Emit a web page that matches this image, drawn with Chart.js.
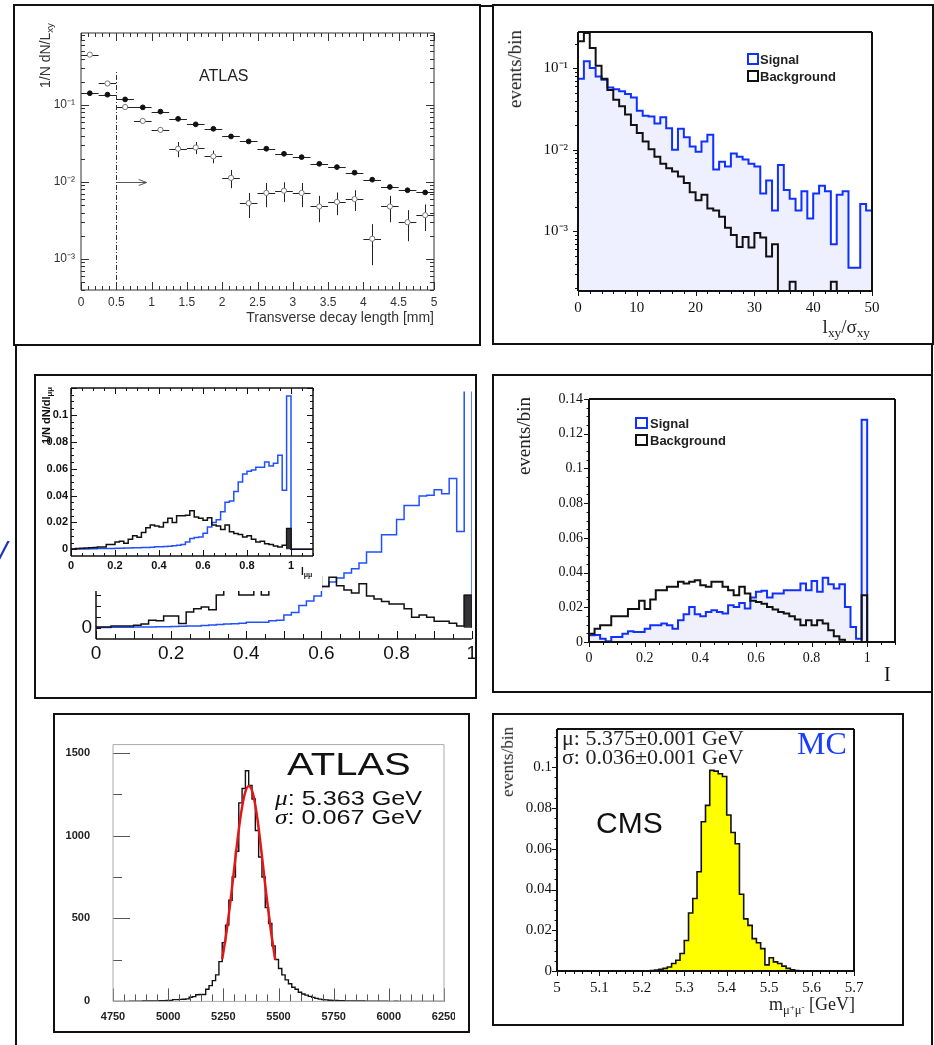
<!DOCTYPE html>
<html>
<head>
<meta charset="utf-8">
<title>B to mu mu selection plots</title>
<script src="https://cdn.jsdelivr.net/npm/chart.js@4.4.1/dist/chart.umd.min.js"></script>
<style>
  body { margin: 0; background: #fff; }
  #page { position: relative; width: 934px; height: 1045px; overflow: hidden; background: #fff; }
  #page canvas, .box, .ln, .t, .lg { position: absolute; }
  .box { border: 2px solid #111; box-sizing: border-box; }
  .ln { background: #111; }
  .t { white-space: nowrap; line-height: 1; color: #111; }
  .rot { transform-origin: right top; transform: rotate(-90deg); }
  .sans { font-family: 'Liberation Sans', Arial, sans-serif; }
  .serif { font-family: 'Liberation Serif', 'Times New Roman', serif; }
  sub { font-size: 70%; vertical-align: -0.3em; line-height: 0; }
  sup { font-size: 70%; vertical-align: 0.4em; line-height: 0; }
  .lg { box-sizing: border-box; border: 2px solid #111; background: #fff; }
  #c3b { background: #fff; }
</style>
</head>
<body>
<div id="page">
  <div class="box" style="left:13px;top:4px;width:468px;height:342px"></div>
  <div class="ln" style="left:480px;top:5px;width:14px;height:2px"></div>
  <div class="box" style="left:492px;top:4px;width:442px;height:341px"></div>
  <div class="ln" style="left:15px;top:345px;width:2px;height:700px"></div>
  <div class="ln" style="left:931px;top:344px;width:2px;height:701px"></div>
  <div class="box" style="left:34px;top:374px;width:443px;height:325px"></div>
  <div class="box" style="left:492px;top:374px;width:441px;height:319px"></div>
  <div class="box" style="left:53px;top:713px;width:417px;height:320px"></div>
  <div class="box" style="left:492px;top:713px;width:412px;height:313px"></div>

  <canvas id="c1"></canvas>
  <canvas id="c2"></canvas>
  <canvas id="c3a" style="clip-path: inset(0 5px 0 0)"></canvas>
  <canvas id="c3b"></canvas>
  <canvas id="c4"></canvas>
  <canvas id="c5" style="clip-path: inset(0 13px 0 0)"></canvas>
  <canvas id="c6"></canvas>

  <!-- panel 1 -->
  <div class="t sans" style="left:199px;top:68px;font-size:16px;color:#222">ATLAS</div>
  <div class="t sans rot" style="right:896px;top:23px;font-size:14px;color:#333">1/N dN/L<sub>xy</sub></div>
  <div class="t sans" style="right:500px;top:310px;font-size:14px;color:#333">Transverse decay length [mm]</div>

  <!-- panel 2 -->
  <div class="t serif rot" style="right:429px;top:30px;font-size:19px;color:#222">events/bin</div>
  <div class="t serif" style="right:64px;top:317px;font-size:19px;color:#222">l<sub>xy</sub>/σ<sub>xy</sub></div>
  <div class="lg" style="left:747px;top:53px;width:12px;height:12px;border-color:#1030ff"></div>
  <div class="t sans" style="left:760px;top:53px;font-size:13px;font-weight:bold;color:#222">Signal</div>
  <div class="lg" style="left:747px;top:70px;width:12px;height:12px"></div>
  <div class="t sans" style="left:760px;top:70px;font-size:13px;font-weight:bold;color:#222">Background</div>

  <!-- panel 3 -->
  <div class="t serif" style="left:-3px;top:535px;font-size:36px;font-style:italic;font-weight:bold;color:#2233bb">/</div>
  <div class="t sans rot" style="right:893px;top:387px;font-size:11px;font-weight:bold">1/N dN/dl<sub>μμ</sub></div>
  <div class="t sans" style="left:301px;top:567px;font-size:10px;font-weight:bold">l<sub>μμ</sub></div>

  <!-- panel 4 -->
  <div class="t serif rot" style="right:420px;top:397px;font-size:19px;color:#222">events/bin</div>
  <div class="t serif" style="left:884px;top:664px;font-size:20px">I</div>
  <div class="lg" style="left:635px;top:417px;width:13px;height:12px;border-color:#1030ff"></div>
  <div class="t sans" style="left:650px;top:417px;font-size:13px;font-weight:bold;color:#222">Signal</div>
  <div class="lg" style="left:635px;top:434px;width:13px;height:12px"></div>
  <div class="t sans" style="left:650px;top:434px;font-size:13px;font-weight:bold;color:#222">Background</div>

  <!-- panel 5 -->
  <div class="t sans" style="left:287px;top:748px;font-size:32px;transform:scaleX(1.25);transform-origin:left top">ATLAS</div>
  <div class="t sans" style="left:275px;top:787px;font-size:21px;transform:scaleX(1.2);transform-origin:left top"><i class="serif">μ</i>: 5.363 GeV</div>
  <div class="t sans" style="left:275px;top:806px;font-size:21px;transform:scaleX(1.2);transform-origin:left top"><i class="serif">σ</i>: 0.067 GeV</div>

  <!-- panel 6 -->
  <div class="t serif" style="left:562px;top:727px;font-size:22px;color:#222">μ: 5.375±0.001 GeV</div>
  <div class="t serif" style="left:562px;top:746px;font-size:22px;color:#222">σ: 0.036±0.001 GeV</div>
  <div class="t serif" style="left:797px;top:727px;font-size:32px;color:#1a3cff">MC</div>
  <div class="t sans" style="left:596px;top:808px;font-size:30px">CMS</div>
  <div class="t serif rot" style="right:435px;top:727px;font-size:17px;color:#222">events/bin</div>
  <div class="t serif" style="right:79px;top:995px;font-size:18px;color:#222">m<sub>μ<sup>+</sup>μ<sup>-</sup></sub> [GeV]</div>
</div>

<script>
'use strict';

// ---------- panel 1: transverse decay length (ATLAS) ----------
const lxyCenters = [0.125, 0.375, 0.625, 0.875, 1.125, 1.375, 1.625, 1.875, 2.125, 2.375,
                    2.625, 2.875, 3.125, 3.375, 3.625, 3.875, 4.125, 4.375, 4.625, 4.875];
const lxyHalfBin = 0.125;
const lxyFilled = [0.142, 0.136, 0.118, 0.093, 0.082, 0.066, 0.056, 0.049, 0.039, 0.0336,
                   0.027, 0.0232, 0.021, 0.0172, 0.0156, 0.0132, 0.0107, 0.0086, 0.0078, 0.0073];
const lxyOpen = [0.45, 0.19, 0.094, 0.062, 0.0475, 0.027, 0.028, 0.0215, 0.0113, 0.0053,
                 0.0072, 0.0077, 0.0072, 0.0048, 0.0055, 0.006, 0.00183, 0.0048, 0.003, 0.0037];
const lxyOpenErr = [0, 0, 0, 0, 0.004, 0.006, 0.005, 0.004, 0.003, 0.0019,
                    0.0025, 0.0022, 0.0025, 0.0018, 0.0018, 0.0018, 0.001, 0.0018, 0.0013, 0.0014];
const lxyCut = 0.5, lxyCutTop = 0.28, lxyArrowEnd = 0.93, lxyArrowY = 0.01;

// ---------- panel 2: Lxy / sigma (50 bins of 1) ----------
const sigLxy = [0.074, 0.121, 0.1, 0.079, 0.072, 0.058, 0.055, 0.052, 0.048, 0.0436,
                0.030, 0.026, 0.0255, 0.021, 0.025, 0.0183, 0.01, 0.018, 0.0142, 0.0109,
                0.0094, 0.0126, 0.0152, 0.0057, 0.0071, 0.0062, 0.009, 0.0082, 0.0076, 0.0067,
                0.0062, 0.0029, 0.0042, 0.0018, 0.0065, 0.0032, 0.0025, 0.0018, 0.0031, 0.00143,
                0.0029, 0.0036, 0.0031, 0.00069, 0.0028, 0.0031, 0.000357, 0.000357, 0.00215, 0.0018];
const bkgLxy = [0.213, 0.27, 0.176, 0.107, 0.074, 0.054, 0.041, 0.034, 0.027, 0.020,
                0.016, 0.0126, 0.0101, 0.0082, 0.0067, 0.0059, 0.0054, 0.0047, 0.0039, 0.003,
                0.0024, 0.0028, 0.0019, 0.0018, 0.0015, 0.0011, 0.0009, 0.00064, 0.00085, 0.00063,
                0.00095, 0.00084, 0.00049, 0.00069, 0, 0, 0.00024, 0, 0, 0,
                0, 0, 0, 0.00024, 0, 0, 0, 0, 0, 0];

// ---------- panel 3: isolation l_mumu (bins of 0.02) ----------
const bigSig = [0.0001, 0.0001, 0.0002, 0.0002, 0.0002, 0.0003, 0.0003, 0.0003, 0.0004, 0.0004,
                0.0005, 0.0006, 0.0007, 0.0008, 0.001, 0.0012, 0.0014, 0.0016, 0.0018, 0.002,
                0.0024, 0.0024, 0.0025, 0.0031, 0.0033, 0.0057, 0.0069, 0.01, 0.0121, 0.0143,
                0.0186, 0.0207, 0.0225, 0.0247, 0.0267, 0.0293, 0.0343, 0.0343, 0.0421, 0.0421,
                0.049, 0.0553, 0.0553, 0.0596, 0.06, 0.0625, 0.0607, 0.0675, 0.0435, 0.11];
const bigBkg = [0.0003, 0.0003, 0.0007, 0.0007, 0.0008, 0.0011, 0.0017, 0.0033, 0.0031, 0.0053,
                0.0053, 0.0019, 0.0071, 0.0086, 0.0093, 0.0081, 0.0148, 0.02, 0.021, 0.0148,
                0.0148, 0.022, 0.0148, 0.024, 0.025, 0.025, 0.026, 0.028, 0.024, 0.023,
                0.0186, 0.0228, 0.019, 0.0171, 0.0157, 0.0199, 0.0143, 0.013, 0.0118, 0.0107,
                0.0107, 0.0086, 0.0047, 0.0057, 0.0047, 0.0029, 0.0029, 0.002, 0.0007, 0.0147];
const insSig = [0.0002, 0.0002, 0.0003, 0.0003, 0.0004, 0.0004, 0.0005, 0.0005, 0.0006, 0.0006,
                0.0007, 0.0008, 0.0009, 0.001, 0.0011, 0.0012, 0.0013, 0.0014, 0.0016, 0.0018,
                0.0019, 0.0021, 0.0023, 0.0026, 0.003, 0.0035, 0.0055, 0.008, 0.0087, 0.0092,
                0.012, 0.0166, 0.02, 0.022, 0.028, 0.035, 0.036, 0.043, 0.05, 0.056,
                0.058, 0.059, 0.061, 0.061, 0.065, 0.062, 0.064, 0.07, 0.044, 0.114,
                0, 0, 0, 0, 0];
const insBkg = [0.0003, 0.0005, 0.0008, 0.001, 0.0012, 0.0014, 0.0017, 0.0017, 0.0035, 0.0035,
                0.0055, 0.006, 0.0045, 0.0075, 0.01, 0.009, 0.0124, 0.016, 0.018, 0.0174,
                0.0166, 0.02, 0.023, 0.02, 0.025, 0.025, 0.0253, 0.0286, 0.024, 0.023,
                0.0216, 0.0234, 0.018, 0.0174, 0.0147, 0.018, 0.013, 0.0117, 0.011, 0.0092,
                0.01, 0.0075, 0.0055, 0.006, 0.0042, 0.0035, 0.0025, 0.0017, 0.003, 0.0154,
                0, 0, 0, 0, 0];

// ---------- panel 4: isolation I (bins of 0.02) ----------
const sigI = [0.0039, 0.004, 0.0019, 0.0005, 0.0029, 0.0029, 0.0048, 0.0062, 0.0058, 0.0058,
              0.0077, 0.0096, 0.0096, 0.0106, 0.0096, 0.0077, 0.0125, 0.016, 0.0202, 0.016,
              0.0148, 0.0173, 0.0183, 0.0173, 0.0164, 0.0212, 0.0202, 0.0225, 0.0193, 0.0256,
              0.0289, 0.0295, 0.0256, 0.0279, 0.0279, 0.0298, 0.0298, 0.0298, 0.0337, 0.0298,
              0.0352, 0.0289, 0.037, 0.0333, 0.0308, 0.0333, 0.0202, 0.0087, 0.0019, 0.128];
const bkgI = [0.0048, 0.0077, 0.0096, 0.0096, 0.0148, 0.0148, 0.0148, 0.019, 0.019, 0.0237,
              0.019, 0.0245, 0.0298, 0.0298, 0.0318, 0.0318, 0.0347, 0.0337, 0.0347, 0.0356,
              0.0327, 0.0318, 0.0347, 0.0347, 0.0318, 0.0298, 0.027, 0.0318, 0.0279, 0.0237,
              0.0231, 0.0221, 0.0202, 0.0187, 0.0173, 0.0164, 0.0148, 0.0129, 0.0096, 0.0125,
              0.0096, 0.0125, 0.0106, 0.0067, 0.0033, 0.0013, 0, 0, 0, 0.027];

// ---------- panel 5: ATLAS mass, 100 bins of 15 MeV from 4750 ----------
const massAtlas = [0, 0, 0, 0, 0, 1, 1, 1, 1, 2, 2, 2, 3, 3, 4, 4, 5, 6,
                   11, 11, 12, 13, 15, 25, 29, 40, 42, 42, 73, 95, 125, 160,
                   240, 354, 460, 610, 750, 905, 1197, 1283, 1390, 1302, 1220, 1030, 870, 750, 565, 470, 335, 253,
                   198, 160, 130, 106, 85, 73, 55, 45, 38, 30, 24, 18, 14, 11, 9, 7, 6, 5, 4, 4, 3,
                   3, 2, 2, 2, 2, 1, 1, 1, 1, 1, 1, 1, 0, 0, 1, 0, 0, 0, 0, 0, 0, 0, 0, 0, 0, 0, 0, 0, 0];
const fitX = [5245, 5265, 5285, 5305, 5325, 5345, 5365, 5385, 5405, 5425, 5445, 5465, 5485];
const fitY = [255, 425, 635, 868, 1085, 1240, 1298, 1248, 1095, 875, 642, 432, 250];

// ---------- panel 6: CMS mass, 70 bins of 0.01 GeV from 5.0 ----------
const massCms = [0, 0, 0, 0, 0, 0, 0, 0, 0, 0, 0, 0, 0, 0, 0, 0, 0, 0, 0, 0, 0, 0,
                 0.0002, 0.0005, 0.0008, 0.0013, 0.002, 0.0037, 0.0053, 0.0086, 0.015, 0.0285,
                 0.0356, 0.0487, 0.0733, 0.0813, 0.0985, 0.0981, 0.0968, 0.0955,
                 0.0766, 0.068, 0.0625, 0.0377, 0.0256, 0.0224, 0.0159, 0.0139, 0.011, 0.003,
                 0.0065, 0.0045, 0.0037, 0.0024, 0.0013, 0.0006, 0.0002,
                 0, 0, 0, 0, 0, 0, 0, 0, 0, 0, 0, 0, 0];

const BLUE = '#1030ff';
const SANS = "'Liberation Sans', Arial, sans-serif";
const SERIF = "'Liberation Serif', 'Times New Roman', serif";

// ---------- helpers ----------
function histPts(start, width, vals, floor) {
  const f = v => (floor !== undefined ? Math.max(v, floor) : v);
  const end = start + vals.length * width;
  const pts = [{x: start, y: f(0)}];
  vals.forEach((v, i) => pts.push({x: start + i * width, y: f(v)}));
  pts.push({x: end, y: f(vals[vals.length - 1])});
  pts.push({x: end, y: f(0)});
  return pts;
}

function range(a, b, step) {
  const out = [];
  for (let i = 0; a + i * step <= b + 1e-9; i++) out.push(+(a + i * step).toFixed(6));
  return out;
}

function logMinors(lo, hi) {
  const out = [];
  for (let e = -5; e <= 0; e++) {
    for (let m = 2; m <= 9; m++) {
      const v = m * Math.pow(10, e);
      if (v >= lo && v <= hi) out.push(v);
    }
  }
  return out;
}

const supMap = {'-1': '⁻¹', '-2': '⁻²', '-3': '⁻³'};
const logLabel = v => '10' + supMap[String(Math.round(Math.log10(v)))];

function axis(type, min, max, ticks, font, color, pad, label) {
  return {
    type, min, max, bounds: 'data',
    grid: {display: false, drawTicks: false},
    border: {display: false},
    ticks: {autoSkip: false, maxRotation: 0, minRotation: 0, padding: pad, font, color,
            callback: v => (label ? label(v) : String(v))},
    afterBuildTicks: s => { s.ticks = ticks.map(v => ({value: v})); }
  };
}

function hist(data, color, width, extra) {
  return Object.assign({data, borderColor: color, borderWidth: width, stepped: true,
                        pointRadius: 0, fill: false, tension: 0}, extra || {});
}

// ROOT-like frame and tick marks drawn on the chart's own scales
function rootAxes(o) {
  return {
    id: 'rootAxes',
    afterDatasetsDraw(chart) {
      const ctx = chart.ctx, a = chart.chartArea;
      const sx = chart.scales.x, sy = chart.scales.y;
      const s = o.out ? 1 : -1;
      ctx.save();
      ctx.strokeStyle = o.tickColor || '#111';
      ctx.lineWidth = o.tickWidth || 1;
      ctx.beginPath();
      const xt = (list, len) => list.forEach(v => {
        const p = Math.round(sx.getPixelForValue(v)) + 0.5;
        if (p < a.left - 1 || p > a.right + 1) return;
        ctx.moveTo(p, a.bottom); ctx.lineTo(p, a.bottom + s * len);
        if (o.mirror) { ctx.moveTo(p, a.top); ctx.lineTo(p, a.top - s * len); }
      });
      const yt = (list, len) => list.forEach(v => {
        const p = Math.round(sy.getPixelForValue(v)) + 0.5;
        if (p < a.top - 1 || p > a.bottom + 1) return;
        ctx.moveTo(a.left, p); ctx.lineTo(a.left - s * len, p);
        if (o.mirror) { ctx.moveTo(a.right, p); ctx.lineTo(a.right + s * len, p); }
      });
      xt(o.xMinor, o.xMinorLen); xt(o.xMajor, o.xLen);
      yt(o.yMinor, o.yMinorLen); yt(o.yMajor, o.yLen);
      ctx.stroke();
      ctx.strokeStyle = o.frameColor || '#111';
      ctx.lineWidth = o.frameWidth || 1;
      const sides = o.sides || 'lbtr';
      ctx.beginPath();
      if (sides.includes('l')) { ctx.moveTo(a.left, a.top); ctx.lineTo(a.left, a.bottom); }
      if (sides.includes('b')) { ctx.moveTo(a.left, a.bottom); ctx.lineTo(a.right, a.bottom); }
      if (sides.includes('t')) { ctx.moveTo(a.left, a.top); ctx.lineTo(a.right, a.top); }
      if (sides.includes('r')) { ctx.moveTo(a.right, a.top); ctx.lineTo(a.right, a.bottom); }
      ctx.stroke();
      ctx.restore();
    }
  };
}

// c = canvas [left, top, width, height], f = plot frame [left, top, right, bottom]
function mk(id, c, f, cfg) {
  const cv = document.getElementById(id);
  cv.width = c[2]; cv.height = c[3];
  cv.style.left = c[0] + 'px'; cv.style.top = c[1] + 'px';
  const o = cfg.options;
  o.responsive = false;
  o.animation = false;
  o.events = [];
  o.layout = {padding: {left: 0, top: f[1] - c[1], right: c[0] + c[2] - f[2], bottom: 0}};
  o.scales.x.afterFit = s => { s.height = c[1] + c[3] - f[3]; };
  o.scales.y.afterFit = s => { s.width = f[0] - c[0]; };
  o.plugins = {legend: {display: false}, tooltip: {enabled: false}};
  return new Chart(cv, cfg);
}

// ---------- panel 1 ----------
const p1Min = 3.95e-4, p1Max = 0.86;
const p1Bars = {
  id: 'p1Bars',
  beforeDatasetsDraw(chart) {
    const ctx = chart.ctx, sx = chart.scales.x, sy = chart.scales.y;
    ctx.save();
    ctx.strokeStyle = '#222';
    ctx.lineWidth = 1;
    ctx.beginPath();
    lxyCenters.forEach((x, i) => {
      const x0 = sx.getPixelForValue(x - lxyHalfBin), x1 = sx.getPixelForValue(x + lxyHalfBin);
      const xc = Math.round(sx.getPixelForValue(x)) + 0.5;
      let py = Math.round(sy.getPixelForValue(lxyFilled[i])) + 0.5;
      ctx.moveTo(x0, py); ctx.lineTo(x1, py);
      py = Math.round(sy.getPixelForValue(lxyOpen[i])) + 0.5;
      ctx.moveTo(x0, py); ctx.lineTo(x1, py);
      if (lxyOpenErr[i] > 0) {
        ctx.moveTo(xc, sy.getPixelForValue(lxyOpen[i] - lxyOpenErr[i]));
        ctx.lineTo(xc, sy.getPixelForValue(lxyOpen[i] + lxyOpenErr[i]));
      }
    });
    ctx.stroke();
    // selection cut and arrow
    const cx = Math.round(sx.getPixelForValue(lxyCut)) + 0.5;
    ctx.strokeStyle = '#333';
    ctx.setLineDash([5, 2, 1, 2]);
    ctx.beginPath();
    ctx.moveTo(cx, sy.getPixelForValue(p1Min));
    ctx.lineTo(cx, sy.getPixelForValue(lxyCutTop));
    ctx.stroke();
    ctx.setLineDash([]);
    const ay = Math.round(sy.getPixelForValue(lxyArrowY)) + 0.5;
    const ax = sx.getPixelForValue(lxyArrowEnd);
    ctx.strokeStyle = '#555';
    ctx.beginPath();
    ctx.moveTo(cx, ay); ctx.lineTo(ax, ay);
    ctx.moveTo(ax - 8, ay - 3); ctx.lineTo(ax, ay); ctx.lineTo(ax - 8, ay + 3);
    ctx.stroke();
    ctx.restore();
  }
};
const f1 = {family: SANS, size: 12};
mk('c1', [15, 6, 463, 338], [81, 33, 434, 290], {
  type: 'line',
  data: {datasets: [
    {data: lxyCenters.map((x, i) => ({x, y: lxyFilled[i]})), showLine: false, pointRadius: 2.4,
     pointBackgroundColor: '#111', pointBorderColor: '#111', pointBorderWidth: 1},
    {data: lxyCenters.map((x, i) => ({x, y: lxyOpen[i]})), showLine: false, pointRadius: 2.6,
     pointBackgroundColor: '#fff', pointBorderColor: '#777', pointBorderWidth: 1}
  ]},
  options: {scales: {
    x: axis('linear', 0, 5, range(0, 5, 0.5), f1, '#333', 5),
    y: axis('logarithmic', p1Min, p1Max, [1e-3, 1e-2, 1e-1], f1, '#333', 6, logLabel)
  }},
  plugins: [p1Bars, rootAxes({mirror: true, tickColor: '#333', frameColor: '#333',
    xMajor: range(0, 5, 0.5), xLen: 8, xMinor: range(0, 5, 0.1), xMinorLen: 4,
    yMajor: [1e-3, 1e-2, 1e-1], yLen: 8, yMinor: logMinors(p1Min, p1Max), yMinorLen: 4})]
});

// ---------- panel 2 ----------
const p2Min = 1.85e-4, p2Max = 0.277;
const f2 = {family: SERIF, size: 15};
mk('c2', [494, 6, 437, 337], [578, 32, 872, 291], {
  type: 'line',
  data: {datasets: [
    hist(histPts(0, 1, bkgLxy, p2Min), '#111', 2),
    hist(histPts(0, 1, sigLxy, p2Min), BLUE, 2, {fill: 'start', backgroundColor: 'rgba(222,226,255,0.5)'})
  ]},
  options: {scales: {
    x: axis('linear', 0, 50, range(0, 50, 10), f2, '#111', 8),
    y: axis('logarithmic', p2Min, p2Max, [1e-3, 1e-2, 1e-1], f2, '#111', 10, logLabel)
  }},
  plugins: [rootAxes({out: true, frameWidth: 2,
    xMajor: range(0, 50, 10), xLen: 5, xMinor: range(0, 50, 2), xMinorLen: 3,
    yMajor: [1e-3, 1e-2, 1e-1], yLen: 5, yMinor: logMinors(p2Min, p2Max), yMinorLen: 3})]
});

// ---------- panel 3: large background plot ----------
const f3 = {family: SANS, size: 19};
mk('c3a', [36, 376, 444, 322], [96, 377, 472, 639], {
  type: 'line',
  data: {datasets: [
    hist(histPts(0.98, 0.02, [bigBkg[49]]), '#111', 1, {fill: 'origin', backgroundColor: '#333'}),
    hist(histPts(0, 0.02, bigBkg), '#111', 1.5),
    hist(histPts(0, 0.02, bigSig), '#2050ff', 1.5)
  ]},
  options: {scales: {
    x: axis('linear', 0, 1, range(0, 1, 0.2), f3, '#111', 3),
    y: axis('linear', -0.00514, 0.107, [0], f3, '#111', 4)
  }},
  plugins: [rootAxes({sides: 'lb', frameWidth: 1.5,
    xMajor: range(0, 1, 0.1), xLen: 8, xMinor: range(0.05, 0.95, 0.1), xMinorLen: 5,
    yMajor: range(0, 0.1, 0.005), yLen: 5, yMinor: [], yMinorLen: 0})]
});

// ---------- panel 3: inset ----------
const f3b = {family: SANS, size: 11, weight: 'bold'};
mk('c3b', [36, 376, 286, 215], [71, 388, 313, 556], {
  type: 'line',
  data: {datasets: [
    hist(histPts(0.98, 0.02, [insBkg[49]]), '#111', 1, {fill: 'origin', backgroundColor: '#333'}),
    hist(histPts(0, 0.02, insBkg), '#111', 1.5),
    hist(histPts(0, 0.02, insSig), '#2050ff', 1.5)
  ]},
  options: {scales: {
    x: axis('linear', 0, 1.1, range(0, 1, 0.2), f3b, '#111', 3),
    y: axis('linear', -0.005, 0.12, range(0, 0.1, 0.02), f3b, '#111', 3)
  }},
  plugins: [rootAxes({mirror: true, frameWidth: 1.5,
    xMajor: range(0, 1.1, 0.2), xLen: 6, xMinor: range(0, 1.1, 0.05), xMinorLen: 3,
    yMajor: range(0, 0.12, 0.02), yLen: 6, yMinor: range(0, 0.12, 0.005), yMinorLen: 3})]
});

// ---------- panel 4 ----------
const f4 = {family: SERIF, size: 14};
mk('c4', [494, 376, 437, 316], [589, 399, 895, 642], {
  type: 'line',
  data: {datasets: [
    hist(histPts(0, 0.02, bkgI), '#111', 2),
    hist(histPts(0, 0.02, sigI), BLUE, 2, {fill: 'origin', backgroundColor: 'rgba(230,230,250,0.6)'})
  ]},
  options: {scales: {
    x: axis('linear', 0, 1.1, range(0, 1, 0.2), f4, '#111', 8),
    y: axis('linear', 0, 0.14, range(0, 0.14, 0.02), f4, '#111', 6)
  }},
  plugins: [rootAxes({out: true, frameWidth: 2,
    xMajor: range(0, 1, 0.2), xLen: 5, xMinor: range(0, 1.1, 0.05), xMinorLen: 3,
    yMajor: range(0, 0.14, 0.02), yLen: 5, yMinor: range(0, 0.14, 0.005), yMinorLen: 2.5})]
});

// ---------- panel 5 ----------
const f5 = {family: SANS, size: 11, weight: 'bold'};
mk('c5', [55, 715, 413, 316], [113, 723, 444, 1004], {
  type: 'line',
  data: {datasets: [
    {data: fitX.map((x, i) => ({x, y: fitY[i]})), borderColor: '#e01818', borderWidth: 2.5,
     pointRadius: 0, tension: 0.4, cubicInterpolationMode: 'monotone', fill: false},
    hist(histPts(4750, 15, massAtlas), '#111', 1.4)
  ]},
  options: {scales: {
    x: axis('linear', 4750, 6250, range(4750, 6250, 250), f5, '#222', 9),
    y: axis('linear', 0, 1548, [0, 500, 1000, 1500], f5, '#222', 23)
  }},
  plugins: [rootAxes({tickColor: '#555', frameColor: '#aaa',
    xMajor: range(4750, 6250, 250), xLen: 13, xMinor: range(4750, 6250, 50), xMinorLen: 7,
    yMajor: [0, 500, 1000, 1500], yLen: 17, yMinor: [250, 750, 1250], yMinorLen: 9})]
});

// ---------- panel 6 ----------
const f6 = {family: SERIF, size: 15};
mk('c6', [494, 715, 408, 309], [557, 727, 854, 971], {
  type: 'line',
  data: {datasets: [
    hist(histPts(5.0, 0.01, massCms), '#111', 1.6, {fill: 'origin', backgroundColor: '#ffff00'})
  ]},
  options: {scales: {
    x: axis('linear', 5, 5.7, range(5, 5.7, 0.1), f6, '#111', 8),
    y: axis('linear', 0, 0.1188, range(0, 0.1, 0.02), f6, '#111', 5)
  }},
  plugins: [rootAxes({out: true, frameWidth: 2,
    xMajor: range(5, 5.7, 0.1), xLen: 5, xMinor: range(5, 5.7, 0.02), xMinorLen: 3,
    yMajor: range(0, 0.1, 0.02), yLen: 5, yMinor: range(0, 0.115, 0.005), yMinorLen: 2.5})]
});
</script>
</body>
</html>
